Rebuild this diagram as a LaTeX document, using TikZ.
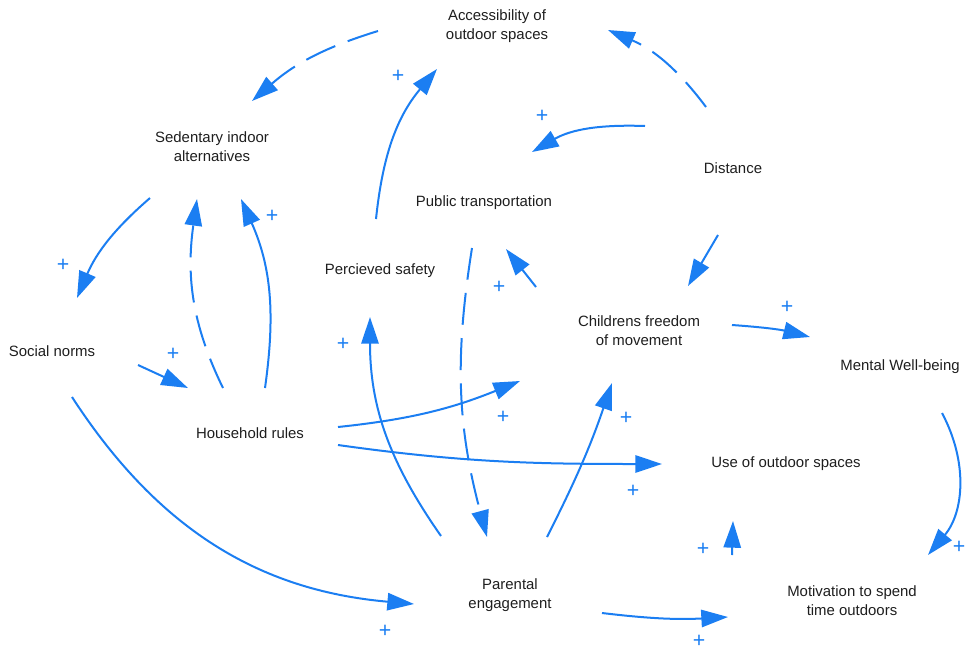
\documentclass[tikz,border=0pt]{standalone}
\usepackage{fontspec}
\setmainfont{Liberation Sans}
\usepackage{xcolor}
\definecolor{link}{HTML}{1B7EF2}
\definecolor{ink}{HTML}{1E1E1E}
\usetikzlibrary{arrows.meta,calc}
\tikzset{
  >={Triangle[length=20pt,width=13pt]},
  var/.style={font=\fontsize{11.2}{14.2}\selectfont\color{ink},align=center,inner sep=0pt},
  pl/.style={font=\fontsize{16}{16}\selectfont\color{link},inner sep=0pt},
  arr/.style={->,draw=link,line width=1.5pt},
  darr/.style={arr,dash pattern=on 24pt off 10pt},
}
\begin{document}
\begin{tikzpicture}[x=0.75pt,y=0.75pt]
\useasboundingbox (0,0) rectangle (966,-650);
\node[var] (access) at (497,-26) {Accessibility of\\outdoor spaces};
\node[var] (sed) at (212,-147) {Sedentary indoor\\alternatives};
\node[var] (dist) at (733,-168) {Distance};
\node[var] (pub) at (484,-203) {Public transportation};
\node[var] (safe) at (380,-271) {Percieved safety};
\node[var] (free) at (639,-331) {Childrens freedom\\of movement};
\node[var] (soc) at (52,-351) {Social norms};
\node[var] (mwb) at (900,-367) {Mental Well-being};
\node[var] (hh) at (250,-433) {Household rules};
\node[var] (use) at (786,-464) {Use of outdoor spaces};
\node[var] (par) at (510,-595) {Parental\\engagement};
\node[var] (mot) at (852,-601) {Motivation to spend\\time outdoors};

\draw[darr] ($(access.center)+(-119,-5)$) to[bend right=12] ($(sed.center)+(40,46)$);
\draw[darr] ($(dist.center)+(-27,61)$) to[bend right=15] ($(access.center)+(111,-4)$);
\draw[arr] ($(safe.center)+(-4,52)$) to[out=84,in=230] ($(access.center)+(-60,-43)$);
\draw[arr] ($(dist.center)+(-88,42)$) to[out=178,in=30] ($(pub.center)+(48,51)$);
\draw[arr] ($(sed.center)+(-62,-51)$) to[bend right=13] ($(soc.center)+(25,53)$);
\draw[darr] ($(hh.center)+(-27,45)$) to[out=116,in=-98] ($(sed.center)+(-15,-52)$);
\draw[arr] ($(hh.center)+(15,45)$) to[out=82,in=-66] ($(sed.center)+(29,-52)$);
\draw[arr] ($(soc.center)+(86,-14)$) -- ($(hh.center)+(-62,45)$);
\draw[arr] ($(soc.center)+(20,-46)$) to[out=-57,in=175] ($(par.center)+(-96,-9)$);
\draw[arr] ($(hh.center)+(88,6)$) to[out=6,in=202] ($(free.center)+(-119,-50)$);
\draw[arr] ($(hh.center)+(88,-12)$) to[out=-8,in=180] ($(use.center)+(-124,0)$);
\draw[arr] ($(par.center)+(-69,59)$) to[out=125,in=-90] ($(safe.center)+(-10,-46)$);
\draw[darr] ($(pub.center)+(-12,-45)$) to[bend right=12] ($(par.center)+(-23,58)$);
\draw[arr] ($(free.center)+(-103,44)$) -- ($(pub.center)+(22,-46)$);
\draw[arr] ($(par.center)+(37,58)$) to[bend right=4] ($(free.center)+(-27,-52)$);
\draw[arr] ($(dist.center)+(-15,-67)$) -- ($(free.center)+(49,45)$);
\draw[arr] ($(free.center)+(93,6)$) to[out=-4,in=166] ($(mwb.center)+(-90,30)$);
\draw[arr] ($(mwb.center)+(42,-46)$) to[out=-62,in=50] ($(mot.center)+(76,46)$);
\draw[arr] ($(mot.center)+(-120,46)$) -- ($(use.center)+(-53,-57)$);
\draw[arr] ($(par.center)+(92,-18)$) to[bend right=5] ($(mot.center)+(-124,-16)$);

\node[pl] (p1) at (398,-76) {+};
\node[pl] (p2) at (542,-116) {+};
\node[pl] (p3) at (63,-265) {+};
\node[pl] (p4) at (272,-216) {+};
\node[pl] (p5) at (173,-354) {+};
\node[pl] (p6) at (499,-287) {+};
\node[pl] (p7) at (343,-344) {+};
\node[pl] (p8) at (787,-307) {+};
\node[pl] (p9) at (503,-417) {+};
\node[pl] (p10) at (626,-418) {+};
\node[pl] (p11) at (633,-491) {+};
\node[pl] (p12) at (703,-549) {+};
\node[pl] (p13) at (959,-547) {+};
\node[pl] (p14) at (385,-631) {+};
\node[pl] (p15) at (699,-641) {+};
\end{tikzpicture}
\end{document}
